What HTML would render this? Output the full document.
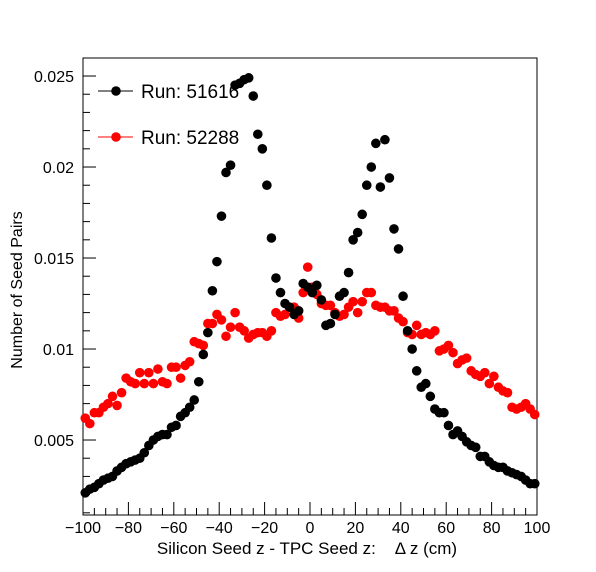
<!DOCTYPE html>
<html><head><meta charset="utf-8"><style>
body{margin:0;background:#fff}
svg{display:block;font-family:"Liberation Sans",sans-serif}
</style></head><body>
<svg id="chart" width="596" height="572">
<rect x="83" y="58" width="454" height="457" fill="none" stroke="#000" stroke-width="1"/>
<g id="axes"></g>
<g id="marks"></g>
<text x="307" y="554" font-size="17" text-anchor="middle">Silicon Seed z - TPC Seed z:&#160;&#160;&#160; Δ z (cm)</text>
<text transform="translate(22,290) rotate(-90)" font-size="16" text-anchor="middle">Number of Seed Pairs</text>
<g>
<g>
<line x1="98" y1="91" x2="133" y2="91" stroke="#000"/><circle cx="116" cy="91" r="4.8" fill="#000"/>
<text x="141" y="98" font-size="19">Run: 51616</text></g>
<g>
<line x1="98" y1="137" x2="133" y2="137" stroke="#f00"/><circle cx="116" cy="137" r="4.8" fill="#f00"/>
<text x="141" y="144" font-size="19">Run: 52288</text></g>
</g>
</svg>
<script>
const xTicks=[-100,-80,-60,-40,-20,0,20,40,60,80,100];
const yTicks=[0.005,0.01,0.015,0.02,0.025];
const yTickLabels=["0.005","0.01","0.015","0.02","0.025"];
const run51616=[0.0021,0.0023,0.0024,0.0026,0.0028,0.0029,0.0030,0.0033,0.0035,0.0037,0.0038,0.0039,0.0040,0.0043,0.0047,0.0050,0.0052,0.0053,0.0053,0.0057,0.0058,0.0063,0.0065,0.0068,0.0072,0.0082,0.0097,0.0109,0.0132,0.0148,0.0173,0.0197,0.0201,0.0245,0.0246,0.0248,0.0249,0.0239,0.0218,0.0210,0.0190,0.0161,0.0139,0.0131,0.0125,0.0123,0.0119,0.0121,0.0136,0.0134,0.0131,0.0135,0.0127,0.0113,0.0114,0.0119,0.0129,0.0131,0.0142,0.0160,0.0164,0.0174,0.0190,0.0200,0.0213,0.0189,0.0215,0.0194,0.0166,0.0155,0.0129,0.0110,0.0100,0.0088,0.0079,0.0081,0.0074,0.0067,0.0065,0.0065,0.0058,0.0053,0.0055,0.0052,0.0049,0.0047,0.0046,0.0041,0.0041,0.0038,0.0036,0.0035,0.0035,0.0033,0.0032,0.0031,0.0030,0.0028,0.0026,0.0026];
const run52288=[0.0062,0.0059,0.0065,0.0065,0.0068,0.0070,0.0074,0.0069,0.0076,0.0084,0.0082,0.0081,0.0087,0.0081,0.0087,0.0081,0.0089,0.0082,0.0081,0.0090,0.0090,0.0084,0.0091,0.0093,0.0104,0.0103,0.0102,0.0114,0.0114,0.0119,0.0116,0.0107,0.0112,0.0120,0.0112,0.0110,0.0106,0.0108,0.0109,0.0109,0.0107,0.0110,0.0120,0.0118,0.0119,0.0123,0.0123,0.0117,0.0131,0.0145,0.0134,0.0130,0.0125,0.0124,0.0124,0.0120,0.0118,0.0119,0.0123,0.0126,0.0120,0.0126,0.0131,0.0131,0.0124,0.0123,0.0123,0.0121,0.0121,0.0117,0.0115,0.0109,0.0108,0.0113,0.0108,0.0109,0.0108,0.0110,0.0099,0.0100,0.0102,0.0098,0.0092,0.0094,0.0095,0.0088,0.0086,0.0085,0.0087,0.0081,0.0085,0.0079,0.0077,0.0076,0.0068,0.0067,0.0068,0.0070,0.0067,0.0064];
const NS="http://www.w3.org/2000/svg";
const X0=83,X1=537,Y0=515,Y1=58,XMIN=-100,XMAX=100,YMIN=0.00088,YMAX=0.02599;
function sx(v){return X0+(v-XMIN)/(XMAX-XMIN)*(X1-X0);}
function sy(v){return Y0-(v-YMIN)/(YMAX-YMIN)*(Y0-Y1);}
function mk(tag,attrs,parent){const e=document.createElementNS(NS,tag);for(const k in attrs)e.setAttribute(k,attrs[k]);parent.appendChild(e);return e;}
const axes=document.getElementById('axes'),marks=document.getElementById('marks');
for(let v=-100;v<=100;v+=5){const major=v%20===0;const t=mk('line',{x1:sx(v),x2:sx(v),y1:Y0,y2:Y0-(major?13:7),stroke:'#000'},axes);

}
xTicks.forEach(v=>{const t=mk('text',{x:sx(v),y:533,'font-size':16,'text-anchor':'middle'},axes);t.textContent=(v<0?'\u2212'+(-v):v);

});
for(let i=1;i<=25;i++){const v=i*0.001;if(sy(v)<Y1||sy(v)>Y0)continue;const major=i%5===0;const t=mk('line',{x1:X0,x2:X0+(major?13:7),y1:sy(v),y2:sy(v),stroke:'#000'},axes);

}
yTicks.forEach((v,i)=>{const t=mk('text',{x:74,y:sy(v)+6,'font-size':16,'text-anchor':'end'},axes);t.textContent=yTickLabels[i];

});
function series(vals,color,name){vals.forEach((v,i)=>{const x=-99+2*i;const c=mk('circle',{cx:sx(x),cy:sy(v),r:4.8,fill:color},marks);

});}
series(run52288,'#f00','point-run-52288');
series(run51616,'#000','point-run-51616');
</script>
</body></html>
